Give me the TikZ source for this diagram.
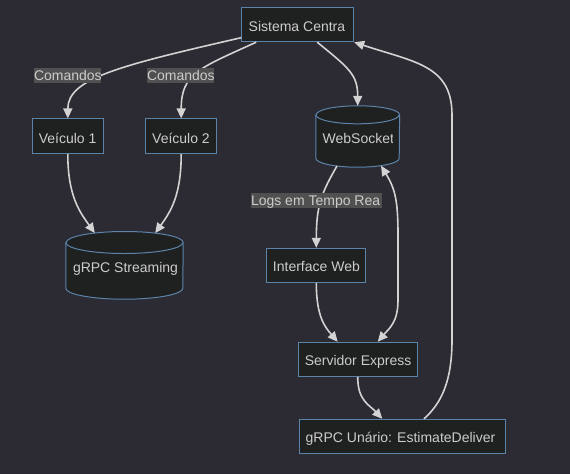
\documentclass[tikz,border=0pt]{standalone}
\usepackage{fontspec}
\setmainfont{Liberation Sans}
\usetikzlibrary{arrows.meta}
\definecolor{bgc}{HTML}{2C2B33}
\definecolor{nfill}{HTML}{1F2020}
\definecolor{nborder}{HTML}{5B84AB}
\definecolor{edgec}{HTML}{D3D3D3}
\definecolor{txtc}{HTML}{CCCCCC}
\definecolor{lblbg}{HTML}{505050}
\tikzset{
  box/.style={draw=nborder, fill=nfill, line width=1pt, inner sep=0pt},
  cylframe/.style={inner sep=0pt},
  cylline/.style={draw=nborder, fill=nfill, line width=1pt},
  txt/.style={text=txtc, font=\fontsize{14pt}{16pt}\selectfont, inner sep=0pt, anchor=base west},
  edge/.style={draw=edgec, line width=1.6pt, -{Triangle[length=10pt,width=9pt]}},
  biedge/.style={draw=edgec, line width=1.6pt, {Triangle[length=10pt,width=9pt]}-{Triangle[length=10pt,width=9pt]}},
  lbl/.style={fill=lblbg, inner sep=0pt},
}
\begin{document}
\begin{tikzpicture}[x=1pt,y=-1pt]
\fill[bgc] (0,0) rectangle (570,474);
\useasboundingbox (0,0) rectangle (570,474);

% ---------- nodes ----------
\node[box, minimum width=112pt, minimum height=34.4pt] (sc) at (297.7,24.5) {};
\node[box, minimum width=71pt, minimum height=34.7pt] (v1) at (67.8,136.3) {};
\node[box, minimum width=71pt, minimum height=34.7pt] (v2) at (181.2,136.3) {};
\node[box, minimum width=99.3pt, minimum height=34pt] (iw) at (316.3,265.3) {};
\node[box, minimum width=118.7pt, minimum height=34pt] (se) at (357.7,359.3) {};
\node[box, minimum width=206pt, minimum height=34pt] (gu) at (402.3,436.3) {};

% cylinders
\node[cylframe, minimum width=83.4pt, minimum height=61pt] (ws) at (357.7,136.5) {};
\path[cylline] ([yshift=-9pt]ws.north west) -- ([yshift=9pt]ws.south west)
  arc[start angle=180,end angle=360,x radius=41.7pt,y radius=9pt]
  -- ([yshift=-9pt]ws.north east)
  arc[start angle=0,end angle=180,x radius=41.7pt,y radius=9pt] -- cycle;
\draw[draw=nborder, line width=1pt] ([yshift=-9pt]ws.north west)
  arc[start angle=180,end angle=360,x radius=41.7pt,y radius=9pt];

\node[cylframe, minimum width=117pt, minimum height=67.3pt] (gs) at (124.5,265.35) {};
\path[cylline] ([yshift=-11pt]gs.north west) -- ([yshift=11pt]gs.south west)
  arc[start angle=180,end angle=360,x radius=58.5pt,y radius=11pt]
  -- ([yshift=-11pt]gs.north east)
  arc[start angle=0,end angle=180,x radius=58.5pt,y radius=11pt] -- cycle;
\draw[draw=nborder, line width=1pt] ([yshift=-11pt]gs.north west)
  arc[start angle=180,end angle=360,x radius=58.5pt,y radius=11pt];

% ---------- texts in nodes (clipped like the original) ----------
\begin{scope}
  \clip ([xshift=1pt]sc.south west) rectangle ([xshift=-6.5pt]sc.north east);
  \node[txt] (sct) at ([xshift=7.3pt,yshift=-6.8pt]sc.west) {Sistema Centra};
\end{scope}
\node[txt] (v1t) at ([xshift=6.8pt,yshift=-7pt]v1.west) {Veículo 1};
\node[txt] (v2t) at ([xshift=6.8pt,yshift=-7pt]v2.west) {Veículo 2};
\begin{scope}
  \clip ([xshift=1pt]iw.south west) rectangle ([xshift=-7pt]iw.north east);
  \node[txt] (iwt) at ([xshift=6.6pt,yshift=-5.8pt]iw.west) {Interface Web};
\end{scope}
\begin{scope}
  \clip ([xshift=1pt]se.south west) rectangle ([xshift=-6.3pt]se.north east);
  \node[txt] (set) at ([xshift=6.7pt,yshift=-6pt]se.west) {Servidor Express};
\end{scope}
\begin{scope}
  \clip ([xshift=1pt]gu.south west) rectangle ([xshift=-6pt]gu.north east);
  \node[txt] (gut) at ([xshift=6.7pt,yshift=-6pt]gu.west) {gRPC Unário: EstimateDeliver};
\end{scope}
\begin{scope}
  \clip ([xshift=1pt]ws.south west) rectangle ([xshift=-6.7pt]ws.north east);
  \node[txt] (wst) at ([xshift=6.7pt,yshift=-6.8pt]ws.west) {WebSocket};
\end{scope}
\begin{scope}
  \clip ([xshift=1pt]gs.south west) rectangle ([xshift=-7pt]gs.north east);
  \node[txt] (gst) at ([xshift=7pt,yshift=-6.7pt]gs.west) {gRPC Streaming};
\end{scope}

% ---------- edges ----------
\draw[edge] ([yshift=4.5pt]sc.south west) .. controls +(-122,28) and +(0,-40) .. (v1.north);
\draw[edge] ([xshift=15pt]sc.south west) .. controls +(-57,26) and +(0,-45) .. (v2.north);
\draw[edge] ([xshift=76pt]sc.south west) .. controls +(32,26) and +(0,-31) .. (ws.north);
\draw[edge] (v1.south) .. controls +(0,42) and +(-15,-21) .. ([xshift=29pt,yshift=-1.6pt]gs.north west);
\draw[edge] (v2.south) .. controls +(0,42) and +(15,-21) .. ([xshift=-28pt,yshift=-1.6pt]gs.north east);
\draw[edge] ([xshift=-20.7pt,yshift=1.2pt]ws.south) .. controls +(-15,26) and +(0,-43) .. (iw.north);
\draw[biedge] ([xshift=23.3pt,yshift=1.5pt]ws.south) .. controls +(14,23) and +(0,-35) .. (398,235)
  -- (398,300) .. controls +(0,22) and +(12,-14) .. ([xshift=20pt]se.north);
\draw[edge] (iw.south) .. controls +(0,35) and +(-12,-14) .. ([xshift=-20pt]se.north);
\draw[edge] (se.south) .. controls +(0,24) and +(-13,-14) .. ([xshift=-20pt]gu.north);
\draw[edge] ([xshift=21.7pt]gu.north) .. controls +(18,-16) and +(0,40) .. (452,340)
  -- (452,115) .. controls +(0,-50) and +(60,20) .. (sc.south east);

% ---------- edge labels ----------
\node[lbl, minimum width=67pt, minimum height=15pt] (l1) at (67.5,75.5) {};
\begin{scope}
  \clip (l1.south west) rectangle (l1.north east);
  \node[txt] (l1t) at ([yshift=-5pt]l1.west) {Comandos};
\end{scope}
\node[lbl, minimum width=67pt, minimum height=15pt] (l2) at (180.5,75.5) {};
\begin{scope}
  \clip (l2.south west) rectangle (l2.north east);
  \node[txt] (l2t) at ([yshift=-5pt]l2.west) {Comandos};
\end{scope}
\node[lbl, minimum width=131.3pt, minimum height=15pt] (l3) at (316.65,200.8) {};
\begin{scope}
  \clip (l3.south west) rectangle (l3.north east);
  \node[txt] (l3t) at ([yshift=-5pt]l3.west) {Logs em Tempo Rea};
\end{scope}
\end{tikzpicture}
\end{document}
